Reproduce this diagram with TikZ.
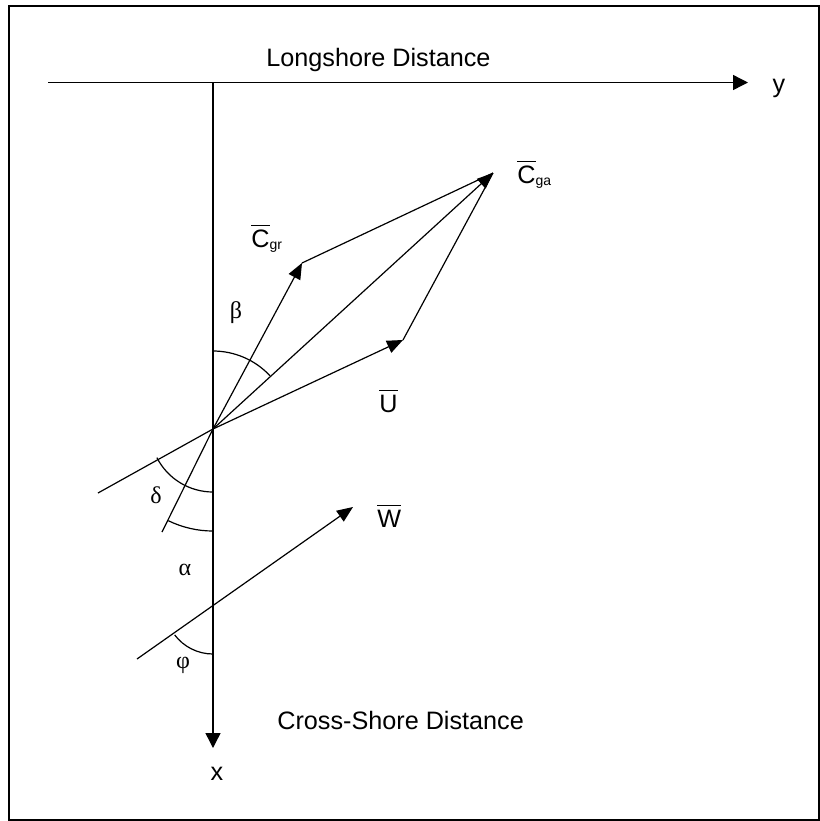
\documentclass[tikz,border=0pt]{standalone}
\usepackage{fontspec}
\setmainfont{Liberation Sans}
\newfontfamily\greekfont{Liberation Serif}
\usetikzlibrary{arrows.meta}

% letter with a bar over it
\newcommand\barred[1]{\setbox0=\hbox{#1}\rlap{\rule[\dimexpr\ht0+1.8pt\relax]{\wd0}{0.5pt}}\box0}
\newcommand\lowsub[1]{\raisebox{-1.3pt}{\fontsize{7}{8}\selectfont #1}}

\begin{document}
\begin{tikzpicture}[x=0.5pt,y=-0.5pt,
    axis/.style={line width=0.7pt,-{Triangle[length=7.5pt,width=7.5pt]}},
    vec/.style={line width=0.6pt,-{Triangle[length=8pt,width=6.5pt]}},
    thinline/.style={line width=0.6pt},
    lab/.style={font=\fontsize{12.6}{15}\selectfont,inner sep=0pt},
    greek/.style={font=\fontsize{12}{14}\greekfont,inner sep=0pt}]
    \useasboundingbox (0,0) rectangle (820,821);
    \draw[line width=1pt] (8.5,6) rectangle (818.5,819.5);

    % axes (image coordinates, y downwards)
    \coordinate (Hl) at (48,82.5);
    \coordinate (Hr) at (748,82.5);
    \coordinate (Vt) at (213,82.5);
    \coordinate (Vb) at (213,748);
    \draw[axis] (Hl) -- (Hr);
    \draw[axis] (Vt) -- (Vb);

    % velocity vectors from the origin
    \coordinate (O) at (213,429);
    \coordinate (Utip) at (403,340);
    \coordinate (Ulow) at (98,493);
    \coordinate (Gtip) at (302,263);
    \coordinate (Glow) at (162,532);
    \coordinate (Atip) at (493,173);
    \draw[thinline] (Ulow) -- (O);
    \draw[thinline] (Glow) -- (O);
    \draw[vec] (O) -- (Utip);
    \draw[vec] (O) -- (Gtip);
    \draw[vec] (O) -- (Atip);
    \draw[thinline] (Gtip) -- (Atip);
    \draw[thinline] (Utip) -- (Atip);

    % wind vector
    \coordinate (Wlow) at (137,659);
    \coordinate (Wtip) at (353,507);
    \coordinate (Wx) at (213,606);
    \draw[vec] (Wlow) -- (Wtip);

    % angle arcs
    \draw[thinline] (O) ++(-90:78) arc[start angle=-90,end angle=-43,radius=78];
    \draw[thinline] (O) ++(90:63) arc[start angle=90,end angle=153,radius=63];
    \draw[thinline] (O) ++(90:102) arc[start angle=90,end angle=116,radius=102];
    \draw[thinline] (Wx) ++(90:48) arc[start angle=90,end angle=143,radius=48];

    % labels
    \node[lab,anchor=base west] (longshore) at (266,66) {Longshore Distance};
    \node[lab,anchor=base west] (crossshore) at (277,729) {Cross-Shore Distance};
    \node[lab,anchor=base] (ylab) at (779,92) {y};
    \node[lab,anchor=base] (xlab) at (217,780) {x};
    \node[lab,anchor=base west] (cgr) at (251,247) {\barred{C}\lowsub{gr}};
    \node[lab,anchor=base west] (cga) at (517,183) {\barred{C}\lowsub{ga}};
    \node[lab,anchor=base west] (ulab) at (379,412) {\barred{U}};
    \node[lab,anchor=base west] (wlab) at (377,527) {\barred{W}};
    \node[greek,anchor=base] (beta) at (236,318) {β};
    \node[greek,anchor=base] (delta) at (156,503) {δ};
    \node[greek,anchor=base] (alpha) at (185,575) {α};
    \node[greek,anchor=base] (phi) at (183,668) {φ};
\end{tikzpicture}
\end{document}
